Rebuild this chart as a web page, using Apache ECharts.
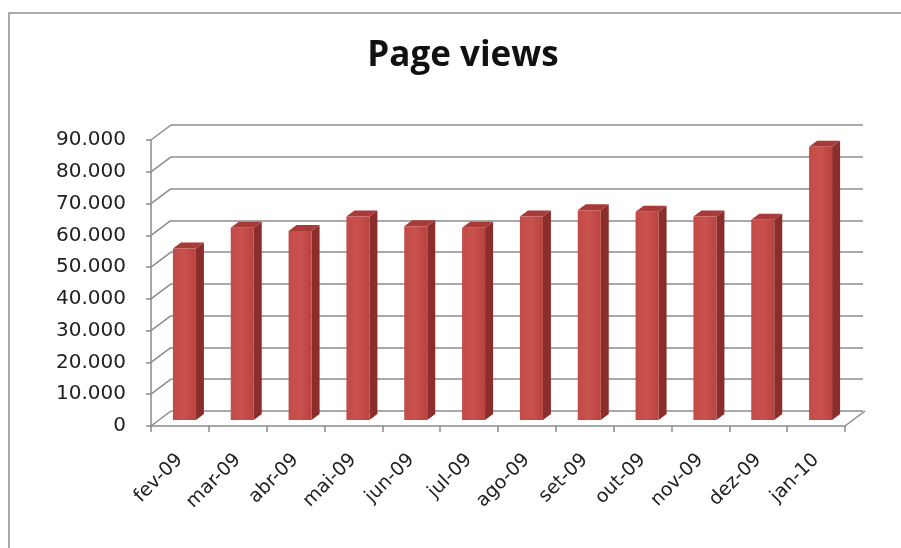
<!DOCTYPE html>
<html>
<head>
<meta charset="utf-8">
<script src="https://cdn.jsdelivr.net/npm/echarts@6/dist/echarts.min.js"></script>
<style>html,body{margin:0;padding:0;background:#fff}#c{width:901px;height:548px}</style>
</head>
<body>
<div id="c"></div>
<script>
const categories = ['fev-09','mar-09','abr-09','mai-09','jun-09','jul-09','ago-09','set-09','out-09','nov-09','dez-09','jan-10'];
const pageViews = [54000, 60500, 59500, 64000, 61000, 60500, 64000, 66000, 65500, 64000, 63000, 86000];
const yTicks = [0, 10000, 20000, 30000, 40000, 50000, 60000, 70000, 80000, 90000];
const titleText = 'Page views';

const DX = 20, DY = -15;   // back-wall depth offset
const chart = echarts.init(document.getElementById('c'));
const fmt = v => v === 0 ? '0' : (v / 1000).toFixed(0) + '.000';

chart.setOption({
  animation: false,
  backgroundColor: '#fff',
  title: {
    text: titleText, left: 458, top: 34, textAlign: 'center',
    textStyle: { fontFamily: 'Open Sans', fontWeight: 'bold', fontSize: 35, color: '#111' }
  },
  graphic: [{
    type: 'rect', shape: { x: 9, y: 13, width: 1000, height: 1000 },
    style: { fill: 'none', stroke: '#8e8e8e', lineWidth: 1.5 }, silent: true, z: 0
  }],
  grid: [
    { left: 151, right: 56, top: 140, bottom: 122 },
    { left: 171, right: 38, top: 125, bottom: 137 }
  ],
  xAxis: [
    { type: 'category', gridIndex: 0, data: categories,
      axisLine: { lineStyle: { color: '#8a8a8a', width: 1.5 } },
      axisTick: { show: true, length: 6, lineStyle: { color: '#8a8a8a', width: 1.5 } },
      axisLabel: { rotate: 45, margin: 31, fontFamily: 'DejaVu Sans', fontSize: 19, color: '#222' } },
    { type: 'category', gridIndex: 1, data: categories, show: false }
  ],
  yAxis: [
    { type: 'value', gridIndex: 0, min: 0, max: 90000, interval: 10000,
      axisLine: { show: true, lineStyle: { color: '#8a8a8a', width: 1.5 } },
      axisTick: { show: true, length: 5, lineStyle: { color: '#8a8a8a', width: 1.5 } },
      splitLine: { show: false },
      axisLabel: { formatter: fmt, margin: 25, fontFamily: 'DejaVu Sans', fontSize: 20, color: '#222' } },
    { type: 'value', gridIndex: 1, min: 0, max: 90000, interval: 10000,
      axisLine: { show: false }, axisTick: { show: false }, axisLabel: { show: false },
      splitLine: { show: true, lineStyle: { color: '#8c8c8c', width: 1.5 } } }
  ],
  series: [
    { // side-wall diagonals at each tick
      type: 'custom', xAxisIndex: 0, yAxisIndex: 0, silent: true, z: 1,
      data: yTicks.map(v => [0, v]),
      renderItem: function (params, api) {
        const p = api.coord([0, api.value(1)]);
        const w = api.size([1, 0])[0];
        const x0 = p[0] - w / 2;
        return { type: 'line', shape: { x1: x0, y1: p[1], x2: x0 + DX, y2: p[1] + DY },
          style: { stroke: '#8c8c8c', lineWidth: 1.5 } };
      }
    },
    { // floor right edge
      type: 'custom', xAxisIndex: 0, yAxisIndex: 0, silent: true, z: 1,
      data: [[categories.length - 1, 0]],
      renderItem: function (params, api) {
        const p = api.coord([api.value(0), 0]);
        const w = api.size([1, 0])[0];
        const x0 = p[0] + w / 2;
        return { type: 'line', shape: { x1: x0, y1: p[1], x2: x0 + DX, y2: p[1] + DY },
          style: { stroke: '#8c8c8c', lineWidth: 1.5 } };
      }
    },
    { // 3D bars
      type: 'custom', xAxisIndex: 0, yAxisIndex: 0, z: 3,
      data: pageViews.map((v, i) => [i, v]),
      renderItem: function (params, api) {
        const p = api.coord([api.value(0), api.value(1)]);
        const b = api.coord([api.value(0), 0]);
        const L = p[0] - 7, R = p[0] + 16, top = p[1] - 6, bot = b[1] - 6;
        const sx = 8, sy = -6;
        return { type: 'group', children: [
          { type: 'polygon', shape: { points: [[R, top], [R + sx, top + sy], [R + sx, bot + sy], [R, bot]] },
            style: { fill: '#8a2d2b' } },
          { type: 'polygon', shape: { points: [[L, top], [L + sx, top + sy], [R + sx, top + sy], [R, top]] },
            style: { fill: '#a83a37' } },
          { type: 'rect', shape: { x: L, y: top, width: R - L, height: bot - top },
            style: { fill: new echarts.graphic.LinearGradient(0, 0, 1, 0, [
              { offset: 0, color: '#c24a47' }, { offset: 0.5, color: '#c9514e' }, { offset: 1, color: '#b8433f' }]) } }
        ] };
      }
    }
  ]
});
</script>
</body>
</html>
